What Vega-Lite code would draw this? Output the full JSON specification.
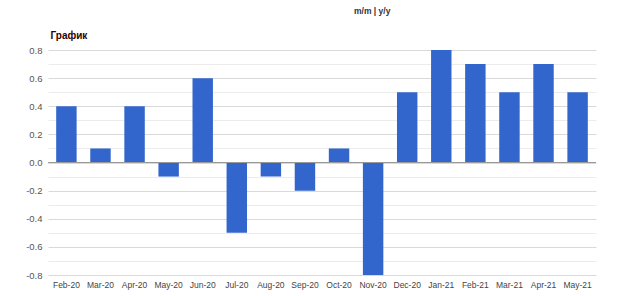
{
  "$schema": "https://vega.github.io/schema/vega-lite/v6.json",
  "width": 548,
  "height": 225,
  "autosize": {"type": "none"},
  "padding": {"left": 48, "top": 50, "right": 24, "bottom": 21},
  "background": "white",
  "title": {
    "text": "m/m | y/y",
    "anchor": "start",
    "frame": "group",
    "dx": 306,
    "offset": 15,
    "fontSize": 8.5,
    "fontWeight": "bold",
    "color": "#333",
    "font": "Arial, Liberation Sans, sans-serif"
  },
  "config": {
    "view": {"stroke": null},
    "font": "Liberation Sans, Arial, sans-serif"
  },
  "data": {
    "values": [
      {"month": "Feb-20", "value": 0.4},
      {"month": "Mar-20", "value": 0.1},
      {"month": "Apr-20", "value": 0.4},
      {"month": "May-20", "value": -0.1},
      {"month": "Jun-20", "value": 0.6},
      {"month": "Jul-20", "value": -0.5},
      {"month": "Aug-20", "value": -0.1},
      {"month": "Sep-20", "value": -0.2},
      {"month": "Oct-20", "value": 0.1},
      {"month": "Nov-20", "value": -0.8},
      {"month": "Dec-20", "value": 0.5},
      {"month": "Jan-21", "value": 0.8},
      {"month": "Feb-21", "value": 0.7},
      {"month": "Mar-21", "value": 0.5},
      {"month": "Apr-21", "value": 0.7},
      {"month": "May-21", "value": 0.5}
    ]
  },
  "layer": [
    {
      "mark": {"type": "bar", "color": "#3366cc"},
      "encoding": {
        "x": {
          "field": "month",
          "type": "nominal",
          "sort": null,
          "scale": {"paddingInner": 0.4, "paddingOuter": 0.24},
          "axis": {
            "title": null,
            "labelAngle": 0,
            "ticks": false,
            "domain": false,
            "labelPadding": 5,
            "labelFontSize": 8.5,
            "labelColor": "#444"
          }
        },
        "y": {
          "field": "value",
          "type": "quantitative",
          "scale": {"domain": [-0.8, 0.8], "nice": false},
          "axis": {
            "values": [-0.8, -0.7, -0.6, -0.5, -0.4, -0.3, -0.2, -0.1, 0, 0.1, 0.2, 0.3, 0.4, 0.5, 0.6, 0.7, 0.8],
            "labelExpr": "abs(round(datum.value*10)) % 2 == 0 ? replace(format(datum.value, '.1f'), '\u2212', '-') : ''",
            "labelOverlap": false,
            "labelFlush": false,
            "ticks": false,
            "domain": false,
            "labelPadding": 6,
            "labelFontSize": 9.5,
            "labelColor": "#555",
            "gridColor": {"condition": {"test": "abs(round(datum.value*10)) % 2 == 0", "value": "#d9d9d9"}, "value": "#ececec"},
            "title": "График",
            "titleAngle": 0,
            "titleAlign": "left",
            "titleBaseline": "alphabetic",
            "titleX": 2,
            "titleY": -12,
            "titleFontSize": 10,
            "titleFontWeight": "bold",
            "titleColor": "#300"
          }
        }
      }
    },
    {
      "data": {"values": [{"zero": 0}]},
      "mark": {"type": "rule", "color": "#999", "strokeWidth": 1},
      "encoding": {
        "y": {
          "field": "zero",
          "type": "quantitative",
          "axis": {
            "values": [-0.8, -0.7, -0.6, -0.5, -0.4, -0.3, -0.2, -0.1, 0, 0.1, 0.2, 0.3, 0.4, 0.5, 0.6, 0.7, 0.8],
            "labelExpr": "abs(round(datum.value*10)) % 2 == 0 ? replace(format(datum.value, '.1f'), '\u2212', '-') : ''",
            "labelOverlap": false,
            "labelFlush": false,
            "ticks": false,
            "domain": false,
            "labelPadding": 6,
            "labelFontSize": 9.5,
            "labelColor": "#555",
            "gridColor": {"condition": {"test": "abs(round(datum.value*10)) % 2 == 0", "value": "#d9d9d9"}, "value": "#ececec"},
            "title": "График",
            "titleAngle": 0,
            "titleAlign": "left",
            "titleBaseline": "alphabetic",
            "titleX": 2,
            "titleY": -12,
            "titleFontSize": 10,
            "titleFontWeight": "bold",
            "titleColor": "#300"
          }
        }
      }
    }
  ]
}
